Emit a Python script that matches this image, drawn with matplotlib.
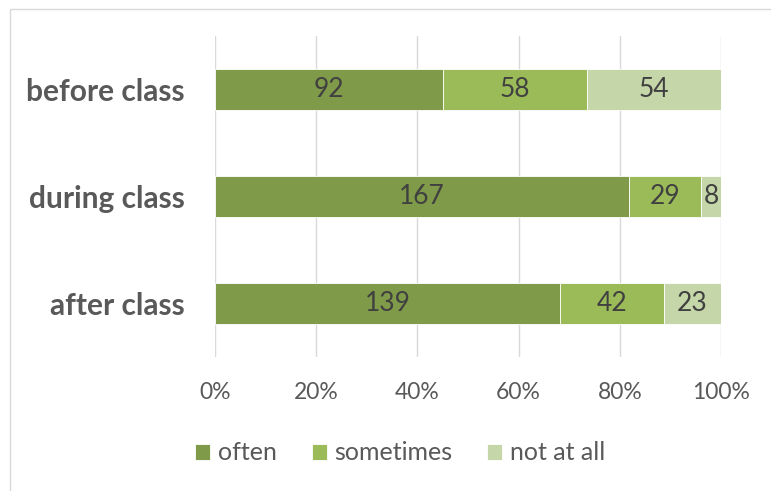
import matplotlib
matplotlib.use("Agg")
import matplotlib.pyplot as plt
from matplotlib.patches import Rectangle
import numpy as np

categories = ["before class", "during class", "after class"]
series_names = ["often", "sometimes", "not at all"]
often = [92, 167, 139]
sometimes = [58, 29, 42]
not_at_all = [54, 8, 23]
colors = ["#7F9A48", "#9BBB59", "#C5D6A9"]
tick_labels = ["0%", "20%", "40%", "60%", "80%", "100%"]

plt.rcParams['font.family'] = ['Lato', 'DejaVu Sans']
text_color = "#595959"

W, H = 771, 491
fig = plt.figure(figsize=(W/100, H/100), dpi=100)
ax = fig.add_axes([215/W, 1-357/H, (721-215)/W, (357-36)/H])

data = np.array([often, sometimes, not_at_all], dtype=float)
totals = data.sum(axis=0)
pct = data / totals * 100
y = np.arange(len(categories))
left = np.zeros(len(categories))
for i, name in enumerate(series_names):
    bars = ax.barh(y, pct[i], left=left, height=0.39, color=colors[i],
                   edgecolor="white", linewidth=0.6, label=name, zorder=3)
    for j, b in enumerate(bars):
        ax.text(left[j] + pct[i][j]/2, y[j], f"{int(data[i][j])}",
                ha="center", va="center", fontsize=19, color="#404040", zorder=4)
    left += pct[i]

ax.set_ylim(2.5, -0.5)
ax.set_xlim(0, 100)
ax.set_xticks(np.linspace(0, 100, 6))
ax.set_xticklabels(tick_labels, fontsize=16.5, color=text_color)
ax.set_yticks(y)
ax.set_yticklabels(categories, fontsize=21.5, fontweight="bold", color=text_color)
ax.tick_params(axis="both", length=0)
ax.tick_params(axis="x", pad=18)
ax.tick_params(axis="y", pad=22)
ax.grid(axis="x", color="#D9D9D9", linewidth=1, zorder=0)
for s in ax.spines.values():
    s.set_visible(False)

leg = fig.legend(loc="center", bbox_to_anchor=(400/W, 1-453/H), ncol=3, frameon=False,
                 fontsize=18, handlelength=0.6, handleheight=0.6, handletextpad=0.3,
                 columnspacing=1.4)
for t in leg.get_texts():
    t.set_color(text_color)

fig.patches.append(Rectangle((10/W, -0.1), 1.2, 1-9/H+0.1, transform=fig.transFigure,
                             fill=False, edgecolor="#D9D9D9", linewidth=1))

fig.savefig("out.png", dpi=100)
